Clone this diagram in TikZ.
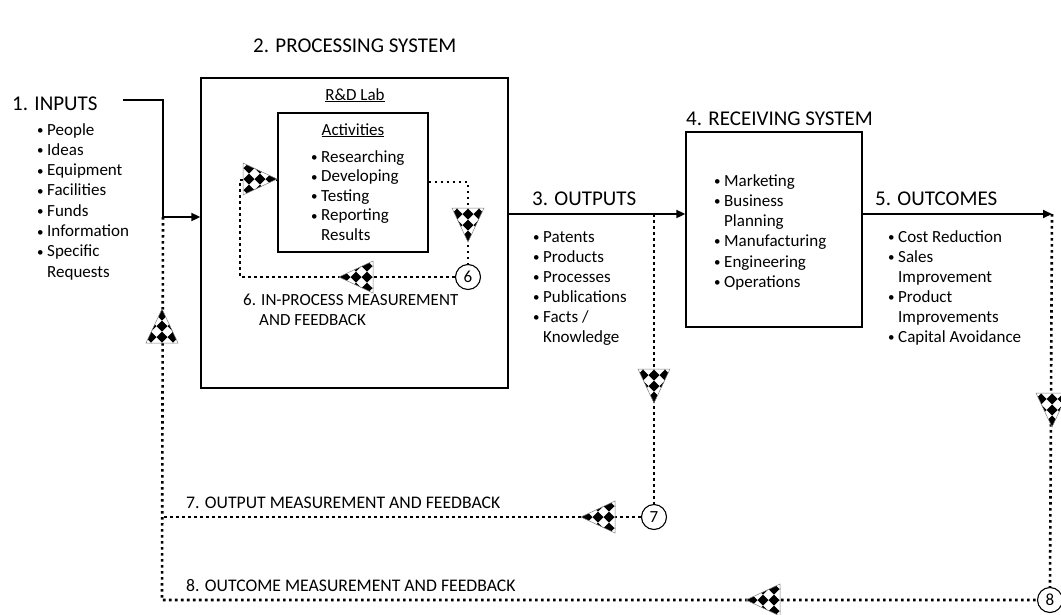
\documentclass[tikz,border=0pt]{standalone}
\usepackage{fontspec}
\setmainfont{Carlito}
\usetikzlibrary{arrows.meta}
\newcommand\bu{\makebox[10pt][l]{\raisebox{0.5pt}{\fontsize{13}{13}\selectfont •}}}
\newcommand\bi{\hspace*{10pt}}
\newcommand\chktri[2]{%
  \begin{scope}[shift={#1}, rotate=#2]
    \path[fill=white] (17,0) -- (-17,16) -- (-17,-16) -- cycle;
    \begin{scope}
      \clip (17,0) -- (-17,16) -- (-17,-16) -- cycle;
      \foreach \i in {-2,...,2}{\foreach \j in {-2,...,2}{
        \fill (\i*11,\j*11) +(5.5,0) -- +(0,5.5) -- +(-5.5,0) -- +(0,-5.5) -- cycle;}}
    \end{scope}
    \draw[gray, line width=0.5pt] (17,0) -- (-17,16) -- (-17,-16) -- cycle;
  \end{scope}}
\begin{document}
\begin{tikzpicture}[x=1pt,y=-1pt,
  box/.style={draw, line width=1.3pt, inner sep=0},
  conn/.style={line width=1.8pt},
  fb/.style={line width=2.6pt, dash pattern=on 2.6pt off 3.4pt},
  ttl/.style={font=\fontsize{21}{25}\selectfont, anchor=base west, inner sep=0},
  bl/.style={font=\fontsize{17}{20}\selectfont, anchor=base west, inner sep=0},
  fbt/.style={font=\fontsize{17.7}{21}\selectfont, anchor=base west, inner sep=0},
  num/.style={circle, draw, line width=1.1pt, minimum size=25pt, inner sep=0, fill=white, font=\fontsize{17}{20}\selectfont},
  arr/.style={-{Triangle[length=9pt,width=8pt]}}
]
\useasboundingbox (0,0) rectangle (1061,614);

% boxes
\node[box, minimum width=307pt, minimum height=310pt] (ps) at (354.5,233) {};
\node[box, minimum width=150pt, minimum height=139pt] (act) at (353,182.5) {};
\node[box, minimum width=176pt, minimum height=195pt] (rs) at (774,229.5) {};

% headings
\node[ttl] (h1) at (12,110) {1. INPUTS};
\node[ttl] (h2) at (253,52) {2. PROCESSING SYSTEM};
\node[ttl] (h3) at (532,205) {3. OUTPUTS};
\node[ttl] (h4) at (686,125) {4. RECEIVING SYSTEM};
\node[ttl] (h5) at (875,205) {5. OUTCOMES};

% inputs
\node[bl] (i1) at (37,135) {\bu People};
\node[bl] (i2) at (37,155.3) {\bu Ideas};
\node[bl] (i3) at (37,175.6) {\bu Equipment};
\node[bl] (i4) at (37,195.9) {\bu Facilities};
\node[bl] (i5) at (37,216.2) {\bu Funds};
\node[bl] (i6) at (37,236.5) {\bu Information};
\node[bl] (i7) at (37,256.8) {\bu Specific};
\node[bl] (i8) at (37,277.1) {\bi Requests};

% processing
\node[bl, anchor=base] (rd) at (355,100) {\underline{R\&D Lab}};
\node[bl, anchor=base] (ac) at (353,135) {\underline{Activities}};
\node[bl] (a1) at (311,162) {\bu Researching};
\node[bl] (a2) at (311,181.5) {\bu Developing};
\node[bl] (a3) at (311,201) {\bu Testing};
\node[bl] (a4) at (311,220.5) {\bu Reporting};
\node[bl] (a5) at (311,240) {\bi Results};
\node[bl] (p6a) at (243,305) {6. IN-PROCESS MEASUREMENT};
\node[bl] (p6b) at (259,325) {AND FEEDBACK};

% outputs
\node[bl] (o1) at (533,242) {\bu Patents};
\node[bl] (o2) at (533,262) {\bu Products};
\node[bl] (o3) at (533,282) {\bu Processes};
\node[bl] (o4) at (533,302) {\bu Publications};
\node[bl] (o5) at (533,322) {\bu Facts /};
\node[bl] (o6) at (533,342) {\bi Knowledge};

% receiving
\node[bl] (r1) at (714,186) {\bu Marketing};
\node[bl] (r2) at (714,206) {\bu Business};
\node[bl] (r3) at (714,226) {\bi Planning};
\node[bl] (r4) at (714,246) {\bu Manufacturing};
\node[bl] (r5) at (714,267) {\bu Engineering};
\node[bl] (r6) at (714,287) {\bu Operations};

% outcomes
\node[bl] (u1) at (888,242) {\bu Cost Reduction};
\node[bl] (u2) at (888,262) {\bu Sales};
\node[bl] (u3) at (888,282) {\bi Improvement};
\node[bl] (u4) at (888,302) {\bu Product};
\node[bl] (u5) at (888,322) {\bi Improvements};
\node[bl] (u6) at (888,342) {\bu Capital Avoidance};

% feedback labels
\node[fbt] (f7) at (186,508) {7. OUTPUT MEASUREMENT AND FEEDBACK};
\node[fbt] (f8) at (186,591) {8. OUTCOME MEASUREMENT AND FEEDBACK};

% coordinates
\coordinate (ya) at (0,214);
\coordinate (in0) at (123,100);
\coordinate (in1) at (163,100);
\coordinate (in2) at (163,217);
\coordinate (bl8) at (162,600);
\coordinate (l6a) at (468,182);
\coordinate (l6b) at (240,277);
\coordinate (l6c) at (240,180);
\coordinate (ot) at (654,214);
\coordinate (oe) at (1052,214);

% circles
\node[num] (c6) at (468,277) {6};
\node[num] (c7) at (654,517) {7};
\node[num] (c8) at (1050,600) {8};

% dotted feedback
\draw[fb] (act.east |- l6a) -- (l6a) -- (c6.north);
\draw[fb] (c6.west) -- (l6b) -- (l6c) -- (act.west |- l6c);
\draw[fb] (in2) -- (bl8) -- (c8.west);
\draw[fb] (ot) -- (c7.north);
\draw[fb] (c7.west) -- (in2 |- c7.west);
\draw[fb] (oe) -- (c8.north);

% solid connectors
\draw[conn, arr] (in0) -- (in1) -- (in2) -- (ps.west |- in2);
\draw[conn, arr] (ps.east |- ya) -- (rs.west |- ya);
\draw[conn, arr] (rs.east |- ya) -- (oe);

% checkered arrowheads
\chktri{(260,179)}{0}
\chktri{(468,225)}{-90}
\chktri{(356,277)}{180}
\chktri{(162,326)}{90}
\chktri{(654,386)}{-90}
\chktri{(598,517)}{180}
\chktri{(1052,410)}{-90}
\chktri{(763,600)}{180}
\end{tikzpicture}
\end{document}
